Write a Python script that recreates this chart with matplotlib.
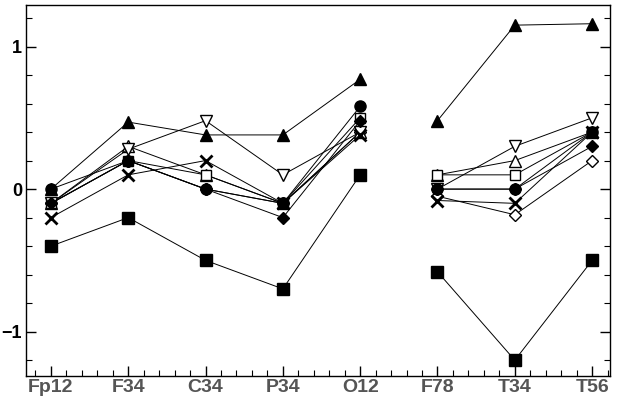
import numpy as np
import matplotlib
matplotlib.use('Agg')
import matplotlib.pyplot as plt
from matplotlib.ticker import MultipleLocator

plt.rcParams['font.family'] = ['Liberation Sans', 'DejaVu Sans']

channels = ['Fp12', 'F34', 'C34', 'P34', 'O12', 'F78', 'T34', 'T56']

tri_up_filled = [0.0, 0.47, 0.38, 0.38, 0.77, 0.48, 1.15, 1.16]
sq_filled     = [-0.4, -0.2, -0.5, -0.7, 0.1, -0.58, -1.2, -0.5]
tri_down_open = [-0.1, 0.28, 0.48, 0.1, 0.4, 0.0, 0.3, 0.5]
tri_up_open   = [-0.1, 0.3, 0.1, -0.1, 0.4, 0.1, 0.2, 0.4]
sq_open       = [-0.1, 0.2, 0.1, -0.1, 0.5, 0.1, 0.1, 0.4]
circ_filled   = [0.0, 0.2, 0.0, -0.1, 0.58, 0.0, 0.0, 0.4]
diam_filled   = [-0.1, 0.2, 0.0, -0.2, 0.48, 0.0, 0.0, 0.3]
diam_open     = [-0.1, 0.2, 0.0, -0.1, 0.4, -0.05, -0.18, 0.2]
cross         = [-0.2, 0.1, 0.2, -0.1, 0.38, -0.08, -0.1, 0.4]

series = [
    (diam_open, 'D', 'white', 6.5),
    (tri_up_open, '^', 'white', 8),
    (sq_open, 's', 'white', 7.5),
    (tri_down_open, 'v', 'white', 8),
    (cross, 'x', 'black', 8),
    (diam_filled, 'D', 'black', 6.5),
    (circ_filled, 'o', 'black', 8),
    (sq_filled, 's', 'black', 8.5),
    (tri_up_filled, '^', 'black', 9),
]

x = np.arange(len(channels))
split = 5  # no line between O12 and F78

fig = plt.figure(figsize=(6.23, 3.99), dpi=100)
ax = fig.add_axes([0.042, 0.058, 0.937, 0.929])

for vals, mk, fc, ms in series:
    y = np.array(vals)
    for sl in (slice(0, split), slice(split, None)):
        ax.plot(x[sl], y[sl], color='black', lw=0.7, marker=mk,
                markerfacecolor=fc, markeredgecolor='black',
                markersize=ms, markeredgewidth=1.0 if mk != 'x' else 2.0)

ax.set_xlim(-0.32, 7.23)
ax.set_ylim(-1.31, 1.29)
ax.set_xticks(x)
ax.set_xticklabels(channels, color='#555555', fontsize=14, fontweight='bold')
ax.xaxis.set_minor_locator(MultipleLocator(0.2))
ax.set_yticks([-1, 0, 1])
ax.set_yticklabels(['\u22121', '0', '1'], fontsize=13, fontweight='bold')
ax.yaxis.set_minor_locator(MultipleLocator(0.2))
ax.tick_params(axis='both', which='major', direction='in', length=7, width=1)
ax.tick_params(axis='both', which='minor', direction='in', length=4, width=0.8)
ax.tick_params(axis='y', which='both', right=True)
ax.tick_params(axis='x', pad=2)
ax.tick_params(axis='y', pad=3)
for s in ax.spines.values():
    s.set_linewidth(1.0)

plt.savefig('out.png', dpi=100)
